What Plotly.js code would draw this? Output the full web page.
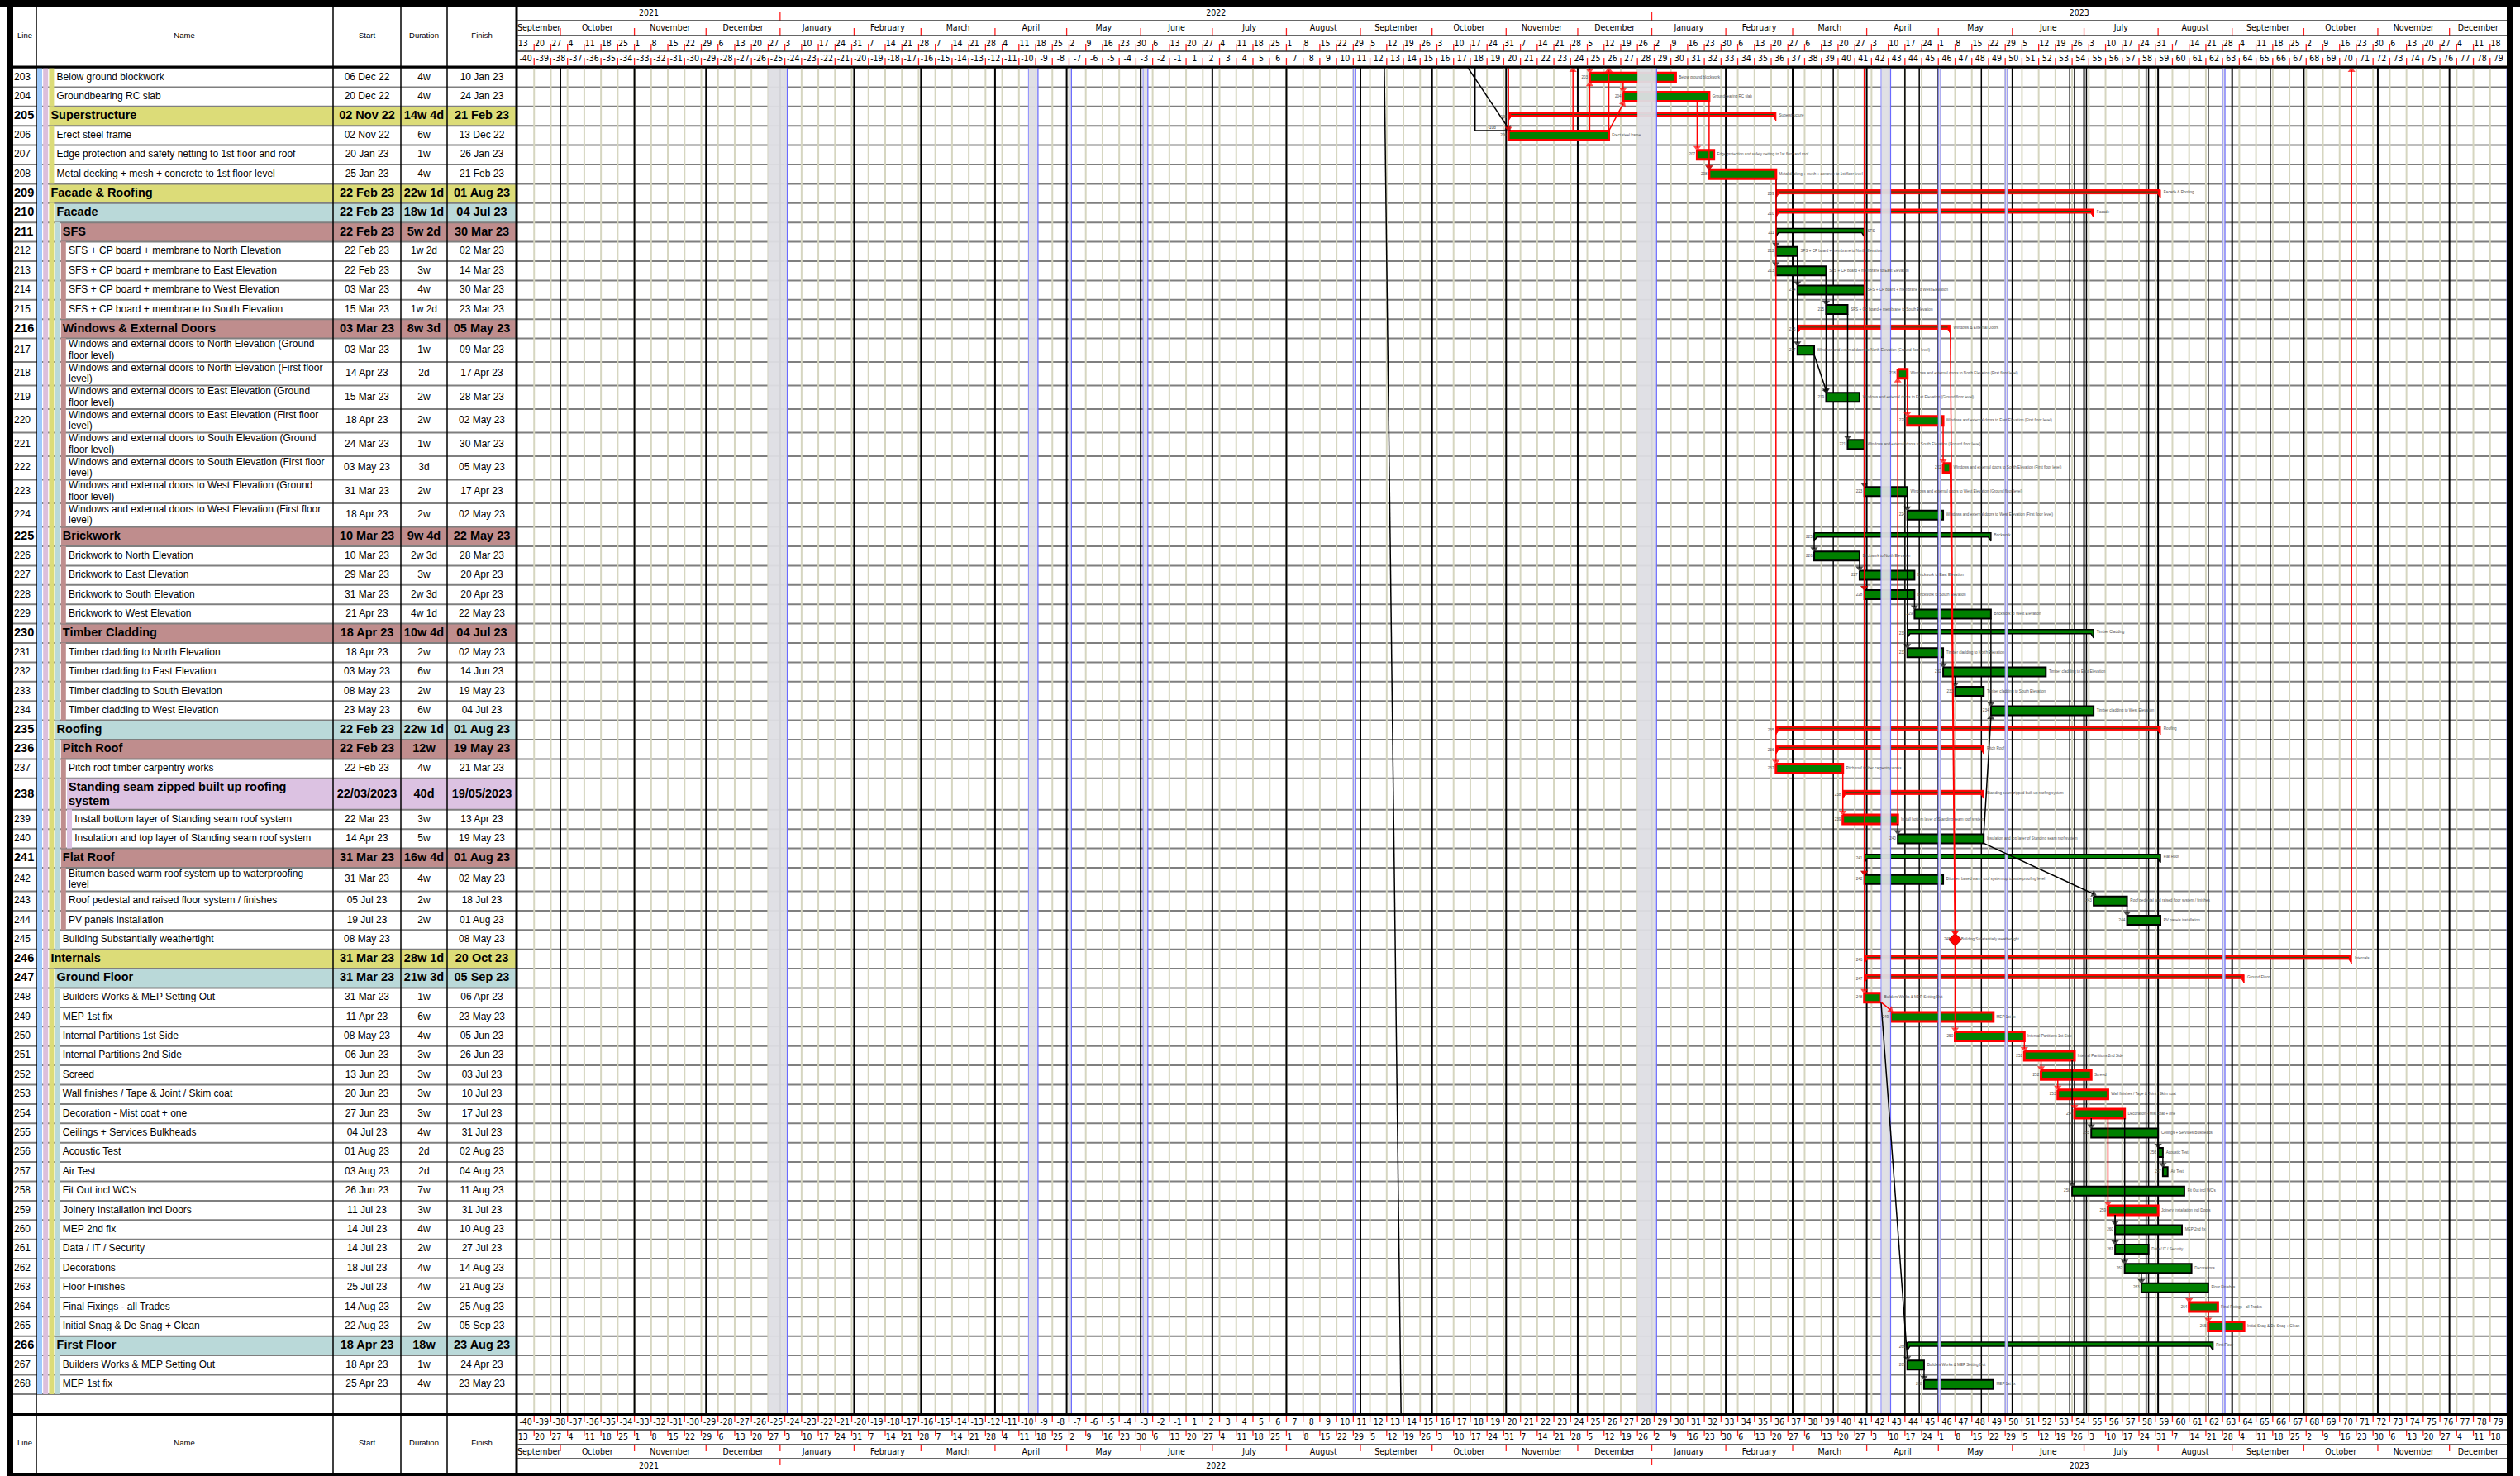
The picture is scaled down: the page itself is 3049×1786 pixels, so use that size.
<!DOCTYPE html>
<html><head><meta charset="utf-8">
<script src="https://cdn.plot.ly/plotly-3.0.1.min.js"></script>
<style>html,body{margin:0;padding:0;background:#fff;overflow:hidden}#chart{width:3049px;height:1786px}</style>
</head><body><div id="chart"></div>
<script>
// ================= DATA =================
const lineNo=[203,204,205,206,207,208,209,210,211,212,213,214,215,216,217,218,219,220,221,222,223,224,225,226,227,228,229,230,231,232,233,234,235,236,237,238,239,240,241,242,243,244,245,246,247,248,249,250,251,252,253,254,255,256,257,258,259,260,261,262,263,264,265,266,267,268];
const taskName=[
"Below ground blockwork",
"Groundbearing RC slab",
"Superstructure",
"Erect steel frame",
"Edge protection and safety netting to 1st floor and roof",
"Metal decking + mesh + concrete to 1st floor level",
"Facade & Roofing",
"Facade",
"SFS",
"SFS + CP board + membrane to North Elevation",
"SFS + CP board + membrane to East Elevation",
"SFS + CP board + membrane to West Elevation",
"SFS + CP board + membrane to South Elevation",
"Windows & External Doors",
"Windows and external doors to North Elevation (Ground\nfloor level)",
"Windows and external doors to North Elevation (First floor\nlevel)",
"Windows and external doors to East Elevation (Ground\nfloor level)",
"Windows and external doors to East Elevation (First floor\nlevel)",
"Windows and external doors to South Elevation (Ground\nfloor level)",
"Windows and external doors to South Elevation (First floor\nlevel)",
"Windows and external doors to West Elevation (Ground\nfloor level)",
"Windows and external doors to West Elevation (First floor\nlevel)",
"Brickwork",
"Brickwork to North Elevation",
"Brickwork to East Elevation",
"Brickwork to South Elevation",
"Brickwork to West Elevation",
"Timber Cladding",
"Timber cladding to North Elevation",
"Timber cladding to East Elevation",
"Timber cladding to South Elevation",
"Timber cladding to West Elevation",
"Roofing",
"Pitch Roof",
"Pitch roof timber carpentry works",
"Standing seam zipped built up roofing\nsystem",
"Install bottom layer of Standing seam roof system",
"Insulation and top layer of Standing seam roof system",
"Flat Roof",
"Bitumen based warm roof system up to waterproofing\nlevel",
"Roof pedestal and raised floor system / finishes",
"PV panels installation",
"Building Substantially weathertight",
"Internals",
"Ground Floor",
"Builders Works & MEP Setting Out",
"MEP 1st fix",
"Internal Partitions 1st Side",
"Internal Partitions 2nd Side",
"Screed",
"Wall finishes / Tape & Joint / Skim coat",
"Decoration - Mist coat + one",
"Ceilings + Services Bulkheads",
"Acoustic Test",
"Air Test",
"Fit Out incl WC's",
"Joinery Installation incl Doors",
"MEP 2nd fix",
"Data / IT / Security",
"Decorations",
"Floor Finishes",
"Final Fixings - all Trades",
"Initial Snag & De Snag + Clean",
"First Floor",
"Builders Works & MEP Setting Out",
"MEP 1st fix"];
const startText=["06 Dec 22","20 Dec 22","02 Nov 22","02 Nov 22","20 Jan 23","25 Jan 23","22 Feb 23","22 Feb 23","22 Feb 23","22 Feb 23","22 Feb 23","03 Mar 23","15 Mar 23","03 Mar 23","03 Mar 23","14 Apr 23","15 Mar 23","18 Apr 23","24 Mar 23","03 May 23","31 Mar 23","18 Apr 23","10 Mar 23","10 Mar 23","29 Mar 23","31 Mar 23","21 Apr 23","18 Apr 23","18 Apr 23","03 May 23","08 May 23","23 May 23","22 Feb 23","22 Feb 23","22 Feb 23","22/03/2023","22 Mar 23","14 Apr 23","31 Mar 23","31 Mar 23","05 Jul 23","19 Jul 23","08 May 23","31 Mar 23","31 Mar 23","31 Mar 23","11 Apr 23","08 May 23","06 Jun 23","13 Jun 23","20 Jun 23","27 Jun 23","04 Jul 23","01 Aug 23","03 Aug 23","26 Jun 23","11 Jul 23","14 Jul 23","14 Jul 23","18 Jul 23","25 Jul 23","14 Aug 23","22 Aug 23","18 Apr 23","18 Apr 23","25 Apr 23"];
const durationText=["4w","4w","14w 4d","6w","1w","4w","22w 1d","18w 1d","5w 2d","1w 2d","3w","4w","1w 2d","8w 3d","1w","2d","2w","2w","1w","3d","2w","2w","9w 4d","2w 3d","3w","2w 3d","4w 1d","10w 4d","2w","6w","2w","6w","22w 1d","12w","4w","40d","3w","5w","16w 4d","4w","2w","2w","","28w 1d","21w 3d","1w","6w","4w","3w","3w","3w","3w","4w","2d","2d","7w","3w","4w","2w","4w","4w","2w","2w","18w","1w","4w"];
const finishText=["10 Jan 23","24 Jan 23","21 Feb 23","13 Dec 22","26 Jan 23","21 Feb 23","01 Aug 23","04 Jul 23","30 Mar 23","02 Mar 23","14 Mar 23","30 Mar 23","23 Mar 23","05 May 23","09 Mar 23","17 Apr 23","28 Mar 23","02 May 23","30 Mar 23","05 May 23","17 Apr 23","02 May 23","22 May 23","28 Mar 23","20 Apr 23","20 Apr 23","22 May 23","04 Jul 23","02 May 23","14 Jun 23","19 May 23","04 Jul 23","01 Aug 23","19 May 23","21 Mar 23","19/05/2023","13 Apr 23","19 May 23","01 Aug 23","02 May 23","18 Jul 23","01 Aug 23","08 May 23","20 Oct 23","05 Sep 23","06 Apr 23","23 May 23","05 Jun 23","26 Jun 23","03 Jul 23","10 Jul 23","17 Jul 23","31 Jul 23","02 Aug 23","04 Aug 23","11 Aug 23","31 Jul 23","10 Aug 23","27 Jul 23","14 Aug 23","21 Aug 23","25 Aug 23","05 Sep 23","23 Aug 23","24 Apr 23","23 May 23"];
const outlineLevel=[3,3,2,3,3,3,2,3,4,5,5,5,5,4,5,5,5,5,5,5,5,5,4,5,5,5,5,4,5,5,5,5,3,4,5,5,6,6,4,5,5,5,4,2,3,4,4,4,4,4,4,4,4,4,4,4,4,4,4,4,4,4,4,3,4,4];
const taskKind=["t","t","s","t","t","t","s","s","s","t","t","t","t","s","t","t","t","t","t","t","t","t","s","t","t","t","t","s","t","t","t","t","s","s","t","s","t","t","s","t","t","t","m","s","s","t","t","t","t","t","t","t","t","t","t","t","t","t","t","t","t","t","t","s","t","t"];
const isCritical=[1,1,1,1,1,1,1,1,0,0,0,0,0,1,0,1,0,1,0,1,0,0,0,0,0,0,0,0,0,0,0,0,1,1,1,1,1,0,0,0,0,0,1,1,1,1,1,1,1,1,1,1,0,0,0,0,1,0,0,0,0,1,1,0,0,0];
// dependency links: [predecessor line, successor line, critical]
const links=[[206,203,1],[206,204,1],[203,204,1],[204,207,1],[204,208,1],[207,208,0],
[208,237,1],[208,212,0],[208,213,0],[212,214,0],[213,215,0],[212,217,0],[217,219,0],[213,219,0],[215,221,0],[214,223,0],[223,224,0],
[239,218,1],[218,220,1],[220,222,1],[222,245,1],[216,245,1],[245,250,1],
[217,226,0],[226,227,0],[221,228,0],[228,229,0],[224,231,0],[231,232,0],[232,233,0],[229,234,0],[240,234,0],
[237,239,1],[239,240,0],[240,243,0],[243,244,0],[214,242,0],
[248,249,1],[250,251,1],[251,252,1],[252,253,1],[253,254,1],[254,255,0],[255,256,0],[256,257,0],[251,258,0],[254,259,1],[259,260,0],[259,261,0],[254,262,0],[262,263,0],[263,264,1],[264,265,1],[248,267,0],[267,268,0]];
// links arriving from tasks above the shown rows: [date, successor line, critical]
const inLinks=[["2022-11-02",206,1],["2022-12-06",203,1],["2023-03-31",248,1],["2023-03-31",228,1],["2023-03-31",242,1]];
// diagonal link arriving from above: [date at top, successor line, critical]
const inDiagonal=[["2022-10-16",206,0]];
// lagged link from above: [date of the drop, successor line, lag label]
const lagLinks=[["2022-10-19",206,"-10d"]];
// links leaving to tasks above the shown rows: [date, predecessor line, critical]
const outLinks=[["2022-11-29",206,1],["2022-12-14",206,1],["2023-10-21",246,1]];
// long connectors crossing the whole sheet: [date at top, date at bottom, critical]
const passLines=[["2022-09-11","2022-09-18",0],["2023-03-18","2023-03-18",0],["2023-04-17","2023-04-17",0],["2023-04-23","2023-04-23",0],["2023-05-19","2023-05-19",0],["2023-06-25","2023-06-25",0],["2023-06-27","2023-06-27",0],["2023-07-02","2023-07-02",0],["2023-07-27","2023-07-27",0],["2023-07-28","2023-07-28",0],["2023-08-22","2023-08-22",0],["2023-09-17","2023-09-17",0]];
const holidays=[["2021-12-27","2022-01-04"],["2022-04-15","2022-04-19"],["2022-05-02","2022-05-03"],["2022-06-02","2022-06-04"],["2022-08-29","2022-08-30"],["2022-12-26","2023-01-03"],["2023-04-07","2023-04-11"],["2023-05-01","2023-05-02"],["2023-05-29","2023-05-30"],["2023-08-28","2023-08-29"],["2023-12-25","2023-12-27"]];
const monthNames=["January","February","March","April","May","June","July","August","September","October","November","December"];
const timelineStart="2021-09-13", timelineEnd="2023-12-25";
const firstWeekNumber=-40;
const tableHeaders=["Line","Name","Start","Duration","Finish"];

// ================= LAYOUT CONSTANTS =================
const W=3049,H=1786,TL0=626,TL1=3033,TOP=82,EMPTY_BOTTOM=1710;
const DAY=864e5;
const FONT="Liberation Sans, Arial, sans-serif";
const NARROW="Liberation Sans Narrow, Arial Narrow, DejaVu Sans Condensed, sans-serif";
const levelColor=['#9ecafc','#dcbfdc','#dcdc78','#bad9d9','#bf8d8d','#dcc2e2'];
const MON={Jan:0,Feb:1,Mar:2,Apr:3,May:4,Jun:5,Jul:6,Aug:7,Sep:8,Oct:9,Nov:10,Dec:11};
const ms=s=>Date.parse(s+'T00:00:00Z');
function parseDate(s){ if(s.indexOf('/')>0){const p=s.split('/');return Date.UTC(+p[2],+p[1]-1,+p[0]);} const p=s.split(' ');return Date.UTC(2000+(+p[2]),MON[p[1]],+p[0]); }

const N=lineNo.length;
const rowTop=[],rowH=[];
let yy=TOP;
for(let i=0;i<N;i++){const two=taskName[i].indexOf('\n')>=0; const h=two?(taskKind[i]==='s'?38:28.5):23.4; rowTop.push(yy); rowH.push(h); yy+=h;}
const tableBottom=yy;
const mid=i=>rowTop[i]+rowH[i]/2;
const idx={}; lineNo.forEach((n,i)=>idx[n]=i);
const sDate=startText.map(parseDate), fDate=finishText.map(parseDate);
const eDate=fDate.map((f,i)=>taskKind[i]==='m'?f:f+DAY);
const barTop=i=>taskKind[i]==='s'?mid(i)-4.5:mid(i)-5.5;
const barBot=i=>taskKind[i]==='s'?mid(i)+0.5:mid(i)+5.5;

const shapes=[];
function rect(x0,y0,x1,y1,fill,layer){shapes.push({type:'rect',xref:'x',yref:'y',x0,y0,x1,y1,fillcolor:fill,line:{width:0},layer:layer||'above'});}
function hline(x0,x1,y,color,w){shapes.push({type:'line',xref:'x',yref:'y',x0,x1,y0:y,y1:y,line:{color,width:w},layer:'above'});}

// summary row backgrounds
for(let i=0;i<N;i++) if(taskKind[i]==='s') rect(45+7.2*outlineLevel[i],rowTop[i],624,rowTop[i]+rowH[i],levelColor[outlineLevel[i]],'below');
// outline strips
for(let k=0;k<6;k++){let i=0;while(i<N){if(outlineLevel[i]>k){let j=i;while(j+1<N&&outlineLevel[j+1]>k)j++;rect(45+7.2*k,rowTop[i]-0.5,45+7.2*k+6,rowTop[j]+rowH[j],levelColor[k]);i=j+1;}else i++;}}
// frame
rect(0,0,W,8,'#000'); rect(9,0,16,H,'#000'); rect(TL1,0,TL1+8,H,'#000'); rect(9,H-4,TL1+8,H,'#000');
rect(9,79.5,TL1+8,82.5,'#000'); rect(9,EMPTY_BOTTOM,TL1+8,EMPTY_BOTTOM+3,'#000');
rect(623.5,0,626.5,H,'#000');
[25,43,62].forEach(y=>hline(TL0,TL1,y,'#333',1.5));
[1730,1748,1765].forEach(y=>hline(TL0,TL1,y,'#333',1.5));

const traces=[];
const base={hoverinfo:'skip',showlegend:false};
// ---- base (table) layer ----
{
  const x=[],y=[];
  for(let i=0;i<N;i++){x.push(16,TL1,null);y.push(rowTop[i],rowTop[i],null);} x.push(16,TL1,null);y.push(tableBottom,tableBottom,null);
  traces.push({...base,type:'scatter',mode:'lines',x,y,line:{color:'#7f7f7f',width:2},xaxis:'x',yaxis:'y'});
  const cx=[],cy=[];[44,403,485,541].forEach(v=>{cx.push(v,v,null);cy.push(8,H,null);});
  traces.push({...base,type:'scatter',mode:'lines',x:cx,y:cy,line:{color:'#000',width:1.5},xaxis:'x',yaxis:'y'});
}
function textTrace(x,y,text,pos,size,color,family,xa,bold){
  traces.push({...base,type:'scatter',mode:'text',x,y,text:bold?text.map(t=>'<b>'+t+'</b>'):text,textposition:pos,
    textfont:{size,color,family},xaxis:xa||'x',yaxis:'y',cliponaxis:false});
}
{
  const norm=[],summ=[];
  for(let i=0;i<N;i++) (taskKind[i]==='s'?summ:norm).push(i);
  const cols=[[startText,444],[durationText,513],[finishText,583]];
  [[norm,12,false],[summ,14.5,true]].forEach(([ids,sz,b])=>{
    const cm=i=>taskKind[i]==='s'&&rowH[i]>30?rowTop[i]+20:mid(i);
    textTrace(ids.map(()=>17),ids.map(cm),ids.map(i=>String(lineNo[i])),'middle right',sz,'#000',FONT,'x',b);
    const nx=[],ny=[],nt=[];
    ids.forEach(i=>{const parts=taskName[i].split('\n');const gap=b?17.5:13.3;const c=cm(i);
      parts.forEach((p,k)=>{nx.push(45+7.2*outlineLevel[i]+2);ny.push(c+(k-(parts.length-1)/2)*gap);nt.push(p);});});
    textTrace(nx,ny,nt,'middle right',sz,'#000',FONT,'x',b);
    cols.forEach(([arr,cx])=>textTrace(ids.map(()=>cx),ids.map(cm),ids.map(i=>arr[i]),'middle center',sz,'#000',FONT,'x',b));
  });
  const hx=[30,223,444,513,583];
  textTrace(hx,hx.map(()=>44),tableHeaders,'middle center',9.5,'#000',FONT,'x');
  textTrace(hx,hx.map(()=>1747),tableHeaders,'middle center',9.5,'#000',FONT,'x');
}

// ---- timeline layer ----
const t0=ms(timelineStart),t1=ms(timelineEnd);
const nWeeks=Math.round((t1-t0)/(7*DAY));
const weekStarts=[],weekNos=[],dayNos=[];
for(let k=0;k<nWeeks;k++){const t=t0+k*7*DAY;weekStarts.push(t);let w=firstWeekNumber+k;if(w>=0)w+=1;weekNos.push(String(w));dayNos.push(String(new Date(t).getUTCDate()));}
const months=[];{let y=2021,m=8;while(Date.UTC(y,m,1)<t1){const s=Date.UTC(y,m,1);months.push({s,a:Math.max(s,t0),b:Math.min(Date.UTC(y,m+1,1),t1),name:monthNames[m]});m++;if(m>11){m=0;y++;}}}
const years=[];[2021,2022,2023].forEach(y=>{const s=Date.UTC(y,0,1);years.push({s,a:Math.max(s,t0),b:Math.min(Date.UTC(y+1,0,1),t1),name:String(y)});});
function segTrace(segs,color,width,extra){const x=[],y=[];segs.forEach(s=>{x.push(s[0],s[1],null);y.push(s[2],s[3],null);});traces.push({...base,type:'scatter',mode:'lines',x,y,line:{color,width},xaxis:'x2',yaxis:'y',...(extra||{})});}
// weekly gridlines
segTrace(weekStarts.slice(1).map(t=>[t,t,TOP,EMPTY_BOTTOM]),'#d6d6c0',2);
// month lines
segTrace(months.filter(m=>m.s>t0).map(m=>[m.s,m.s,TOP,EMPTY_BOTTOM]),'#000',2);
// long crossing connectors
segTrace(passLines.filter(p=>!p[2]).map(p=>[ms(p[0]),ms(p[1]),TOP,EMPTY_BOTTOM]),'#000',1.5);
// header ticks and labels
{
  const red=[];
  weekStarts.slice(1).forEach(t=>{red.push([t,t,53,62],[t,t,70,79],[t,t,1713,1721],[t,t,1730,1738]);});
  months.filter(m=>m.s>t0).forEach(m=>{red.push([m.s,m.s,34,43],[m.s,m.s,1748,1756]);});
  years.filter(y=>y.s>t0).forEach(y=>{red.push([y.s,y.s,15,25],[y.s,y.s,1765,1773]);});
  segTrace(red,'#ff2020',1.3);
  const wmid=weekStarts.map(t=>t+3.5*DAY), dx=weekStarts.map(t=>t+0.25*DAY);
  textTrace(dx,dx.map(()=>53),dayNos,'middle right',10.5,'#000',NARROW,'x2');
  textTrace(wmid,wmid.map(()=>71),weekNos,'middle center',10.5,'#000',NARROW,'x2');
  textTrace(dx,dx.map(()=>1739.5),dayNos,'middle right',10.5,'#000',NARROW,'x2');
  textTrace(wmid,wmid.map(()=>1721.5),weekNos,'middle center',10.5,'#000',NARROW,'x2');
  const mm=months.map(m=>(m.a+m.b)/2), ym=years.map(y=>(y.a+y.b)/2);
  textTrace(mm,mm.map(()=>34.5),months.map(m=>m.name),'middle center',10.5,'#000',NARROW,'x2');
  textTrace(mm,mm.map(()=>1757),months.map(m=>m.name),'middle center',10.5,'#000',NARROW,'x2');
  textTrace(ym,ym.map(()=>16.5),years.map(y=>y.name),'middle center',10.5,'#000',NARROW,'x2');
  textTrace(ym,ym.map(()=>1774),years.map(y=>y.name),'middle center',10.5,'#000',NARROW,'x2');
}
// task bars
function polyTrace(polys,fill,lineColor,lw){const x=[],y=[];polys.forEach(p=>{p.forEach(q=>{x.push(q[0]);y.push(q[1]);});x.push(p[0][0],null);y.push(p[0][1],null);});
  traces.push({...base,type:'scatter',mode:'lines',x,y,fill:'toself',fillcolor:fill,line:{color:lineColor,width:lw},xaxis:'x2',yaxis:'y'});}
{
  const nb=[],cb=[],ns=[],cs=[],inner=[];
  for(let i=0;i<N;i++){
    const s=sDate[i],e=eDate[i],m=mid(i);
    if(taskKind[i]==='t'){(isCritical[i]?cb:nb).push([[s,m-5.5],[e,m-5.5],[e,m+5.5],[s,m+5.5]]);}
    else if(taskKind[i]==='s'){const w=1.1*DAY;(isCritical[i]?cs:ns).push([[s,m-4.5],[e,m-4.5],[e,m+5.5],[e-w,m+0.5],[s+w,m+0.5],[s,m+5.5]]);if(isCritical[i])inner.push([s+w,e-w,m-2,m-2]);}
  }
  polyTrace(nb,'#008000','#000',2);
  polyTrace(cb,'#008000','#ff0000',3);
  polyTrace(ns,'#008000','#000',1.5);
  polyTrace(cs,'#ff0000','#ff0000',1);
  segTrace(inner,'#1a5c1a',1);
  const mi=[];for(let i=0;i<N;i++)if(taskKind[i]==='m')mi.push(i);
  traces.push({...base,type:'scatter',mode:'markers',x:mi.map(i=>fDate[i]),y:mi.map(mid),marker:{symbol:'diamond',size:12,color:'#ff0000',line:{color:'#b00000',width:1}},xaxis:'x2',yaxis:'y'});
}
// holidays (drawn over the bars)
polyTrace(holidays.map(h=>{const a=ms(h[0]),b=ms(h[1]);return [[a,TOP],[b,TOP],[b,EMPTY_BOTTOM],[a,EMPTY_BOTTOM]];}),'rgba(222,222,228,0.95)','rgba(0,0,0,0)',0);
segTrace(holidays.map(h=>[ms(h[1]),ms(h[1]),TOP,EMPTY_BOTTOM]),'#6a6aff',1.2);
segTrace(holidays.filter(h=>ms(h[1])-ms(h[0])<6*DAY).map(h=>[ms(h[0]),ms(h[0]),TOP,EMPTY_BOTTOM]),'#8a8aff',1);
// red crossing connectors
segTrace(passLines.filter(p=>p[2]).map(p=>[ms(p[0]),ms(p[1]),TOP,EMPTY_BOTTOM]),'#ff0000',1.5);
// dependency links
{
  const segs={0:[],1:[]};
  links.forEach(([a,b,c])=>{const p=idx[a],s=idx[b];const pe=eDate[p],ss=sDate[s];
    let x0,x1;if(pe>=ss){x0=x1=ss;}else{x0=pe;x1=ss;}
    let y0,y1;if(s>p){y0=barBot(p);y1=barTop(s)-3;}else{y0=barTop(p);y1=barBot(s)+3;}
    segs[c].push([x0,x1,y0,y1,true]);});
  inLinks.forEach(([d,l,c])=>{const s=idx[l];segs[c].push([ms(d),ms(d),TOP,barTop(s)-3,true]);});
  inDiagonal.forEach(([d,l,c])=>{const s=idx[l];segs[c].push([ms(d),sDate[s],TOP,barTop(s)-3,true]);});
  outLinks.forEach(([d,l,c])=>{const p=idx[l];segs[c].push([ms(d),ms(d),barTop(p),TOP+3,true]);});
  [[0,'#000'],[1,'#ff0000']].forEach(([c,col])=>{const x=[],y=[],sz=[];segs[c].forEach(q=>{x.push(q[0],q[1],null);y.push(q[2],q[3],null);sz.push(0,q[4]?8:0,0);});
    traces.push({...base,type:'scatter',mode:'lines+markers',x,y,line:{color:col,width:1.5},marker:{symbol:'triangle-up',size:sz,color:col,angleref:'previous',line:{width:0}},xaxis:'x2',yaxis:'y'});});
  // lagged links: drop from above, then run across to the successor start
  const lx=[],ly=[];const tx=[],ty=[],tt=[];
  lagLinks.forEach(([d,l,lab])=>{const s=idx[l];const yb=barTop(s)-0.5;lx.push(ms(d),ms(d),sDate[s]-0.6*DAY,null);ly.push(TOP,yb,yb,null);
    tx.push((ms(d)+sDate[s])/2);ty.push(yb-3.5);tt.push(lab);});
  traces.push({...base,type:'scatter',mode:'lines',x:lx,y:ly,line:{color:'#000',width:1.5},xaxis:'x2',yaxis:'y'});
  textTrace(tx,ty,tt,'middle center',4.8,'#404040',FONT,'x2');
}
// tiny bar labels
{
  const lx=[],ly=[],lt=[],rx=[],ry=[],rt=[];
  for(let i=0;i<N;i++){const m=taskKind[i]==='s'?mid(i)+1:mid(i);
    lx.push(sDate[i]-(taskKind[i]==='m'?2*DAY:0.8*DAY));ly.push(m);lt.push(String(lineNo[i]));
    rx.push(eDate[i]+(taskKind[i]==='m'?2.5*DAY:1.3*DAY));ry.push(taskKind[i]==='s'?mid(i)-1:mid(i));rt.push(taskName[i].replace('\n',' '));}
  textTrace(lx,ly,lt,'middle left',4.6,'#505050',FONT,'x2');
  textTrace(rx,ry,rt,'middle right',4.6,'#505050',FONT,'x2');
}

const layout={width:W,height:H,margin:{l:0,r:0,t:0,b:0,pad:0},paper_bgcolor:'#ffffff',plot_bgcolor:'rgba(0,0,0,0)',showlegend:false,hovermode:false,
  xaxis:{range:[0,W],domain:[0,1],visible:false,fixedrange:true},
  xaxis2:{type:'date',range:[timelineStart,timelineEnd],domain:[TL0/W,TL1/W],anchor:'y',visible:false,fixedrange:true},
  yaxis:{range:[H,0],domain:[0,1],visible:false,fixedrange:true},
  shapes};
Plotly.newPlot('chart',traces,layout,{staticPlot:true,displayModeBar:false});
</script></body></html>
